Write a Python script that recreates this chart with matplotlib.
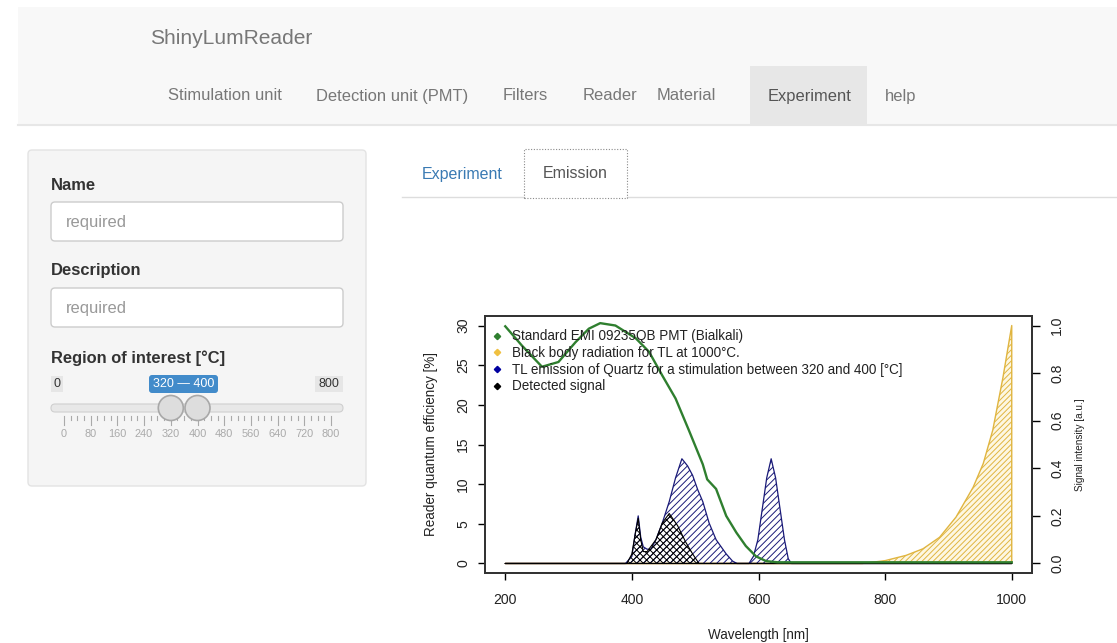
import matplotlib
matplotlib.use("Agg")
import matplotlib.pyplot as plt
from matplotlib.patches import Rectangle, FancyBboxPatch, Circle
from matplotlib.lines import Line2D

plt.rcParams['font.family'] = ['Liberation Sans', 'DejaVu Sans']
plt.rcParams['hatch.linewidth'] = 0.7

W, H = 1117, 643
PX = 0.72  # px -> pt at 100 dpi

# ─── Dati ─────────────────────────────────────────────────────────────────────

# PMT quantum efficiency [%] (asse sinistro)
pmt_wl = [200, 226, 258, 284, 311, 332, 350, 374, 406, 427, 448, 469, 490,
          512, 519, 533, 549, 565, 580, 596, 612, 630, 1000]
pmt_qe = [29.9, 27.5, 24.8, 25.4, 27.9, 29.6, 30.3, 30.0, 28.4, 26.7, 23.7,
          20.8, 16.8, 12.5, 10.6, 9.4, 6.0, 3.9, 2.2, 0.9, 0.3, 0.15, 0.15]

# TL emission of quartz [a.u.] (asse destro)
tl_wl = [200, 390, 400, 405, 410, 414, 418, 424, 430, 438, 448, 459, 469, 479,
         488, 496, 504, 512, 522, 533, 549, 559, 566, 585, 592, 599, 606, 613,
         620, 627, 634, 641, 647, 652, 1000]
tl_int = [0, 0, 0.03, 0.12, 0.20, 0.11, 0.07, 0.06, 0.06, 0.10, 0.17, 0.26,
          0.36, 0.44, 0.41, 0.37, 0.31, 0.26, 0.17, 0.10, 0.04, 0.01, 0,
          0, 0.03, 0.10, 0.23, 0.36, 0.44, 0.36, 0.23, 0.10, 0.02, 0, 0]

# Black body radiation at 1000 °C [a.u.]
bb_wl = [200, 764, 800, 833, 860, 886, 912, 939, 955, 970, 986, 1000]
bb_int = [0, 0, 0.012, 0.034, 0.062, 0.11, 0.195, 0.32, 0.42, 0.56, 0.78, 1.0]

# Detected signal [a.u.]
det_wl = [200, 392, 400, 405, 410, 414, 418, 424, 438, 448, 459, 472, 485,
          496, 506, 1000]
det_int = [0, 0, 0.04, 0.12, 0.19, 0.10, 0.05, 0.05, 0.10, 0.17, 0.21, 0.16,
           0.09, 0.04, 0, 0]

legend_labels = ["Standard EMI 09235QB PMT (Bialkali)",
                 "Black body radiation for TL at 1000°C.",
                 "TL emission of Quartz for a stimulation between 320 and 400 [°C]",
                 "Detected signal"]

nav_items = ["Stimulation unit", "Detection unit (PMT)", "Filters", "Reader",
             "Material", "Experiment", "help"]
nav_x = [168, 316, 503, 583, 657, 768, 885]

slider_min, slider_max = 0, 800
slider_sel = (320, 400)
slider_labels = [0, 80, 160, 240, 320, 400, 480, 560, 640, 720, 800]

GREEN = '#2f7f2f'
NAVY = '#1a1a78'
GOLD = '#e0b540'

# ─── Figura e pagina Shiny ────────────────────────────────────────────────────

fig = plt.figure(figsize=(W / 100, H / 100), dpi=100)
ui = fig.add_axes([0, 0, 1, 1])
ui.set_xlim(0, W)
ui.set_ylim(H, 0)
ui.axis("off")

# navbar
ui.add_patch(Rectangle((18, 7), W - 18, 118, fc='#f8f8f8', ec='none'))
ui.plot([18, W], [125, 125], color='#e7e7e7', lw=1.5)
ui.add_patch(Rectangle((750, 66), 117, 59, fc='#e7e7e7', ec='none'))
ui.text(150, 38, "ShinyLumReader", fontsize=21 * PX, color='#777777',
        va='center')
for lab, x in zip(nav_items, nav_x):
    ui.text(x, 96, lab, fontsize=16.5 * PX, va='center',
            color='#555555' if lab == "Experiment" else '#777777')

# sidebar
ui.add_patch(FancyBboxPatch((28, 150), 338, 336,
                            boxstyle="round,pad=0,rounding_size=4",
                            fc='#f5f5f5', ec='#e3e3e3', lw=1))
for lab, y_lab, y_box in [("Name", 185, 202), ("Description", 271, 288)]:
    ui.text(51, y_lab, lab, fontsize=16.5 * PX, fontweight='bold',
            color='#333333', va='center')
    ui.add_patch(FancyBboxPatch((51, y_box), 292, 39,
                                boxstyle="round,pad=0,rounding_size=4",
                                fc='white', ec='#cccccc', lw=1))
    ui.text(66, y_box + 20, "required", fontsize=16.5 * PX, color='#999999',
            va='center')
ui.text(51, 358, "Region of interest [°C]", fontsize=16.5 * PX,
        fontweight='bold', color='#333333', va='center')

# slider
x0, x1 = 64, 331


def sx(v):
    return x0 + (v - slider_min) / (slider_max - slider_min) * (x1 - x0)


ui.add_patch(Rectangle((51, 376), 12, 16, fc='#e6e6e6', ec='none'))
ui.text(57, 384, str(slider_min), fontsize=12.5 * PX, color='#333333',
        ha='center', va='center')
ui.add_patch(Rectangle((315, 376), 28, 16, fc='#e6e6e6', ec='none'))
ui.text(329, 384, str(slider_max), fontsize=12.5 * PX, color='#333333',
        ha='center', va='center')
ui.add_patch(FancyBboxPatch((149, 375), 69, 18,
                            boxstyle="round,pad=0,rounding_size=3",
                            fc='#428bca', ec='none'))
ui.text(183.5, 384, f"{slider_sel[0]} — {slider_sel[1]}",
        fontsize=12.5 * PX, color='white', ha='center', va='center')
ui.add_patch(FancyBboxPatch((51, 404), 292, 8,
                            boxstyle="round,pad=0,rounding_size=4",
                            fc='#e8e8e8', ec='#cfcfcf', lw=0.8))
for v in range(slider_min, slider_max + 1, 20):
    major = v % 80 == 0
    ui.plot([sx(v), sx(v)], [416, 425 if major else 420], color='#aaaaaa',
            lw=0.8)
for v in slider_labels:
    ui.text(sx(v), 434, str(v), fontsize=11 * PX, color='#aaaaaa',
            ha='center', va='center')
for v in slider_sel:
    ui.add_patch(Circle((sx(v), 408), 12.5, fc='#dddddd', ec='#a8a8a8',
                        lw=1.2, zorder=3))

# tabs
ui.plot([402, 524], [197, 197], color='#dddddd', lw=1)
ui.plot([627, W], [197, 197], color='#dddddd', lw=1)
ui.plot([524, 524, 627, 627, 524], [198, 149, 149, 198, 198], color='#8a8a8a',
        lw=0.8, ls=(0, (1, 1.5)))
ui.text(422, 174, "Experiment", fontsize=16 * PX, color='#3a7ab3',
        va='center')
ui.text(543, 174, "Emission", fontsize=16 * PX, color='#555555',
        va='center')

# ─── Grafico ──────────────────────────────────────────────────────────────────

L, R, T, B = 485, 1032, 316, 573
ax = fig.add_axes([L / W, (H - B) / H, (R - L) / W, (B - T) / H])
ax2 = ax.twinx()
ax.set_zorder(3)
ax2.set_zorder(2)
ax.patch.set_visible(False)
ax2.patch.set_visible(True)
ax2.patch.set_facecolor('white')

ax2.fill_between(bb_wl, bb_int, 0, facecolor='#fdf7e2', edgecolor=GOLD,
                 hatch='//////', linewidth=1.0)
ax2.fill_between(tl_wl, tl_int, 0, facecolor='none', edgecolor=NAVY,
                 hatch='/////', linewidth=0.9)
ax2.fill_between(det_wl, det_int, 0, facecolor='none', edgecolor='black',
                 hatch='xxxxx', linewidth=0.8)
ax.plot(pmt_wl, pmt_qe, color=GREEN, lw=1.7)

ax.set_xlim(168, 1032)
ax.set_ylim(-1.2, 31.2)
ax2.set_ylim(-0.04, 1.04)
ax.set_xticks([200, 400, 600, 800, 1000])
ax.set_yticks([0, 5, 10, 15, 20, 25, 30])
ax2.set_yticks([0.0, 0.2, 0.4, 0.6, 0.8, 1.0])
ax2.set_yticklabels([f"{v:.1f}" for v in ax2.get_yticks()])

TXT = '#222222'
for a in (ax, ax2):
    for s in a.spines.values():
        s.set_color('#333333')
        s.set_linewidth(1.3)
ax.tick_params(axis='x', direction='out', length=7 * PX, width=1,
               pad=13 * PX, labelsize=14 * PX, labelcolor=TXT)
ax.tick_params(axis='y', direction='out', length=7 * PX, width=1,
               pad=8 * PX, labelsize=14 * PX, labelcolor=TXT)
ax2.tick_params(axis='y', direction='out', length=8 * PX, width=1,
                pad=10 * PX, labelsize=14 * PX, labelcolor=TXT)
for lab in ax.get_yticklabels() + ax2.get_yticklabels():
    lab.set_rotation(90)
    lab.set_va('center')

ax.set_xlabel("Wavelength [nm]", fontsize=13.5 * PX, color=TXT, labelpad=15)
ax.set_ylabel("Reader quantum efficiency [%]", fontsize=13.5 * PX, color=TXT,
              labelpad=13)
ax2.set_ylabel("Signal intensity [a.u.]", fontsize=10 * PX, color=TXT,
               labelpad=8)

handles = [Line2D([], [], ls='none', marker='D', ms=3.2, color=c)
           for c in (GREEN, '#f0c040', '#0000a0', 'black')]
ax.legend(handles, legend_labels, loc='upper left',
          bbox_to_anchor=(0.012, 0.948), frameon=False, borderpad=0,
          borderaxespad=0, handlelength=0.8, handletextpad=0.75,
          labelspacing=0.2, prop={'size': 13.5 * PX}, labelcolor=TXT)

fig.savefig("out.png", dpi=100)
